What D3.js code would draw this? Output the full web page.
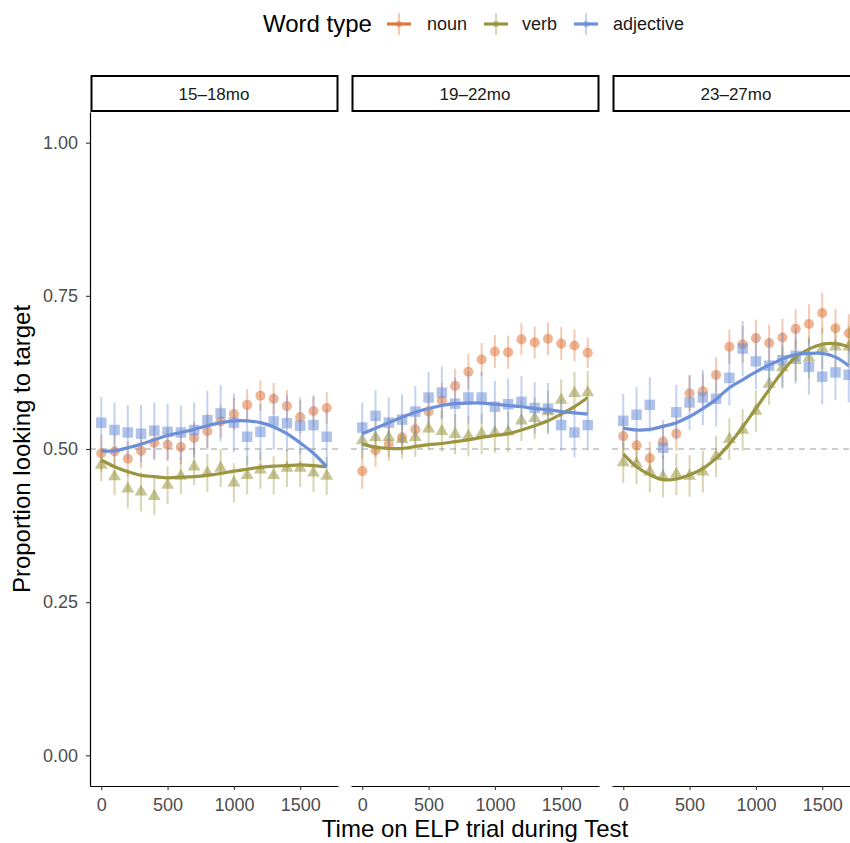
<!DOCTYPE html>
<html>
<head>
<meta charset="utf-8">
<script src="https://cdn.jsdelivr.net/npm/d3@7"></script>
<style>
body { margin: 0; background: #fff; }
svg { display: block; }
</style>
</head>
<body>
<div id="chart"></div>
<script>
// time bins (ms) and facets
var times = [0,100,200,300,400,500,600,700,800,900,1000,1100,1200,1300,1400,1500,1600,1700];
var panelNames = ["15–18mo", "19–22mo", "23–27mo"];
var wordTypes = ["noun", "verb", "adjective"];
var color_palette = ['#E0773C', '#9B9540', '#6D8FD8'];
var yTicks = [0, 0.25, 0.5, 0.75, 1];
var xTicks = [0, 500, 1000, 1500];

// means per bin
var noun15 = [0.493,0.496,0.484,0.497,0.510,0.507,0.503,0.518,0.529,0.545,0.557,0.572,0.587,0.582,0.570,0.552,0.562,0.567];
var verb15 = [0.474,0.455,0.435,0.430,0.423,0.441,0.456,0.471,0.461,0.469,0.445,0.457,0.466,0.457,0.469,0.469,0.461,0.456];
var adj15  = [0.543,0.531,0.527,0.525,0.530,0.528,0.527,0.531,0.547,0.558,0.543,0.520,0.528,0.545,0.542,0.538,0.539,0.520];

var noun19 = [0.464,0.498,0.508,0.519,0.532,0.561,0.579,0.603,0.626,0.646,0.659,0.658,0.679,0.674,0.680,0.672,0.669,0.657];
var verb19 = [0.514,0.519,0.519,0.516,0.519,0.533,0.529,0.524,0.521,0.525,0.527,0.528,0.546,0.550,0.561,0.580,0.591,0.592];
var adj19  = [0.535,0.554,0.543,0.548,0.561,0.584,0.592,0.574,0.584,0.584,0.569,0.573,0.577,0.567,0.566,0.539,0.527,0.539];

var noun23 = [0.521,0.506,0.485,0.512,0.525,0.591,0.594,0.621,0.667,0.671,0.681,0.673,0.682,0.696,0.704,0.722,0.697,0.689];
var verb23 = [0.478,0.476,0.463,0.455,0.459,0.456,0.463,0.488,0.516,0.531,0.562,0.606,0.633,0.645,0.649,0.664,0.667,0.667];
var adj23  = [0.546,0.556,0.572,0.502,0.560,0.576,0.584,0.582,0.616,0.664,0.643,0.636,0.645,0.652,0.634,0.618,0.625,0.621];

// error bar half-widths
var seNoun15 = [0.030,0.028,0.028,0.029,0.028,0.027,0.028,0.027,0.028,0.027,0.027,0.026,0.025,0.026,0.026,0.027,0.026,0.026];
var seVerb15 = [0.027,0.030,0.032,0.032,0.031,0.031,0.030,0.030,0.031,0.031,0.032,0.031,0.031,0.031,0.031,0.031,0.031,0.031];
var seAdj15  = [0.042,0.045,0.045,0.047,0.046,0.046,0.044,0.045,0.048,0.046,0.048,0.046,0.046,0.046,0.046,0.046,0.046,0.046];

var seNoun19 = [0.029,0.027,0.027,0.027,0.027,0.028,0.029,0.028,0.029,0.027,0.027,0.027,0.026,0.026,0.027,0.027,0.026,0.025];
var seVerb19 = [0.030,0.032,0.032,0.032,0.032,0.034,0.033,0.033,0.033,0.033,0.033,0.033,0.033,0.034,0.034,0.034,0.035,0.035];
var seAdj19  = [0.041,0.042,0.041,0.041,0.042,0.042,0.043,0.042,0.042,0.042,0.042,0.042,0.042,0.042,0.042,0.042,0.041,0.041];

var seNoun23 = [0.029,0.028,0.027,0.028,0.028,0.029,0.029,0.029,0.028,0.030,0.030,0.030,0.031,0.032,0.032,0.033,0.032,0.031];
var seVerb23 = [0.033,0.034,0.034,0.034,0.034,0.034,0.034,0.034,0.034,0.034,0.034,0.034,0.034,0.034,0.034,0.034,0.034,0.034];
var seAdj23  = [0.044,0.045,0.045,0.045,0.045,0.045,0.045,0.045,0.045,0.045,0.045,0.045,0.045,0.045,0.045,0.045,0.045,0.045];

// smoothed fits
var smoothVerb15 = [0.482,0.471,0.463,0.457,0.455,0.453,0.454,0.455,0.457,0.460,0.464,0.467,0.470,0.472,0.473,0.474,0.473,0.471];
var smoothAdj15  = [0.497,0.497,0.502,0.508,0.515,0.522,0.527,0.532,0.538,0.543,0.546,0.546,0.543,0.536,0.525,0.510,0.493,0.471];
var smoothVerb19 = [0.508,0.503,0.501,0.501,0.504,0.507,0.509,0.512,0.515,0.519,0.522,0.525,0.531,0.538,0.546,0.557,0.569,0.584];
var smoothAdj19  = [0.525,0.534,0.543,0.552,0.560,0.566,0.571,0.574,0.575,0.575,0.573,0.571,0.569,0.566,0.564,0.561,0.559,0.557];
var smoothVerb23 = [0.492,0.471,0.458,0.450,0.451,0.458,0.468,0.485,0.508,0.536,0.566,0.597,0.626,0.650,0.663,0.671,0.672,0.667];
var smoothAdj23  = [0.534,0.531,0.532,0.537,0.543,0.553,0.566,0.581,0.600,0.613,0.626,0.637,0.647,0.654,0.656,0.656,0.650,0.636];

var panels = [
  {name: panelNames[0], mean: [noun15, verb15, adj15], se: [seNoun15, seVerb15, seAdj15], smooth: [null, smoothVerb15, smoothAdj15]},
  {name: panelNames[1], mean: [noun19, verb19, adj19], se: [seNoun19, seVerb19, seAdj19], smooth: [null, smoothVerb19, smoothAdj19]},
  {name: panelNames[2], mean: [noun23, verb23, adj23], se: [seNoun23, seVerb23, seAdj23], smooth: [null, smoothVerb23, smoothAdj23]}
];

var font = "'Liberation Sans', Arial, sans-serif";
var svg = d3.select('#chart').append('svg')
  .attr('width', 850)
  .attr('height', 843)
  .attr('font-family', font);

var panelTop = 112, panelBottom = 786;
var panelW = 248, panelStep = 261, panelX0 = 90;
var stripTop = 75;

var x = d3.scaleLinear().domain([-85, 1785]).range([0, panelW]);
var y = d3.scaleLinear().domain([-0.05, 1.05]).range([panelBottom, panelTop]);

var shapes = [
  d3.symbol().type(d3.symbolCircle).size(80),
  d3.symbol().type(d3.symbolTriangle).size(72),
  d3.symbol().type(d3.symbolSquare).size(110)
];

var line = d3.line()
  .x(d => x(d.t))
  .y(d => y(d.v))
  .curve(d3.curveCatmullRom);

var xAxis = g => g
  .attr('transform', `translate(0,${panelBottom})`)
  .call(d3.axisBottom(x).tickValues(xTicks).tickSize(4).tickPadding(8).tickSizeOuter(0).tickFormat(d3.format('d')))
  .call(g => g.select('.domain').attr('stroke', '#000').attr('stroke-width', 1.2))
  .call(g => g.selectAll('.tick line').attr('stroke', '#333').attr('stroke-width', 1.1))
  .call(g => g.selectAll('.tick text')
    .attr('fill', '#4D4D4D')
    .attr('font-family', font)
    .attr('font-size', '18px'));

var yAxis = g => g
  .call(d3.axisLeft(y).tickValues(yTicks).tickSize(4).tickPadding(8).tickSizeOuter(0).tickFormat(d3.format('.2f')))
  .call(g => g.select('.domain').attr('stroke', '#000').attr('stroke-width', 1.2))
  .call(g => g.selectAll('.tick line').attr('stroke', '#333').attr('stroke-width', 1.1))
  .call(g => g.selectAll('.tick text')
    .attr('fill', '#4D4D4D')
    .attr('font-family', font)
    .attr('font-size', '18px'));

panels.forEach(function (p, pi) {
  var g = svg.append('g').attr('transform', `translate(${panelX0 + pi * panelStep},0)`);

  // reference line at chance
  g.append('line')
    .attr('x1', 0).attr('x2', panelW)
    .attr('y1', y(0.5)).attr('y2', y(0.5))
    .attr('stroke', '#BEBEBE')
    .attr('stroke-width', 1.5)
    .attr('stroke-dasharray', '6,5');

  wordTypes.forEach(function (w, wi) {
    var pts = times.map((t, i) => ({t: t, v: p.mean[wi][i], se: p.se[wi][i]}));
    var sg = g.append('g');
    sg.selectAll('line')
      .data(pts)
      .join('line')
      .attr('x1', d => x(d.t)).attr('x2', d => x(d.t))
      .attr('y1', d => y(d.v - d.se)).attr('y2', d => y(d.v + d.se))
      .attr('stroke', color_palette[wi])
      .attr('stroke-opacity', 0.4)
      .attr('stroke-width', 2);
    sg.selectAll('path')
      .data(pts)
      .join('path')
      .attr('d', shapes[wi])
      .attr('transform', d => `translate(${x(d.t)},${y(d.v)})`)
      .attr('fill', color_palette[wi])
      .attr('fill-opacity', 0.55);
  });

  wordTypes.forEach(function (w, wi) {
    if (!p.smooth[wi]) return;
    var pts = times.map((t, i) => ({t: t, v: p.smooth[wi][i]}));
    g.append('path')
      .attr('d', line(pts))
      .attr('fill', 'none')
      .attr('stroke', color_palette[wi])
      .attr('stroke-width', 3.2);
  });

  // strip
  g.append('rect')
    .attr('x', 1.5).attr('y', stripTop + 1)
    .attr('width', panelW - 2).attr('height', panelTop - stripTop - 2)
    .attr('fill', '#fff')
    .attr('stroke', '#000')
    .attr('stroke-width', 2);
  g.append('text')
    .attr('x', panelW / 2)
    .attr('y', (stripTop + panelTop) / 2)
    .attr('dy', '0.36em')
    .attr('text-anchor', 'middle')
    .attr('fill', '#1A1A1A')
    .attr('font-size', '17px')
    .text(p.name);

  g.append('g').call(xAxis);
  if (pi === 0) g.append('g').call(yAxis);
});

// axis titles
svg.append('text')
  .attr('x', panelX0 + (2 * panelStep + panelW) / 2)
  .attr('y', 837)
  .attr('text-anchor', 'middle')
  .attr('font-size', '24px')
  .attr('fill', '#000')
  .text('Time on ELP trial during Test');

svg.append('text')
  .attr('transform', `translate(30,${(panelTop + panelBottom) / 2}) rotate(-90)`)
  .attr('text-anchor', 'middle')
  .attr('font-size', '24px')
  .attr('fill', '#000')
  .text('Proportion looking to target');

// legend
var legend = svg.append('g');
legend.append('text')
  .attr('x', 263).attr('y', 32)
  .attr('font-size', '24px')
  .attr('fill', '#000')
  .text('Word type');

var keyX = [399, 496, 586];
var labelX = [427, 522, 613];
wordTypes.forEach(function (w, wi) {
  var k = legend.append('g').attr('transform', `translate(${keyX[wi]},24)`);
  k.append('line')
    .attr('x1', 0).attr('x2', 0).attr('y1', -11).attr('y2', 11)
    .attr('stroke', color_palette[wi]).attr('stroke-opacity', 0.4).attr('stroke-width', 2);
  k.append('path')
    .attr('d', d3.symbol().type(d3.symbolCircle).size(30)())
    .attr('fill', color_palette[wi]).attr('fill-opacity', 0.55);
  k.append('line')
    .attr('x1', -12).attr('x2', 12).attr('y1', 0).attr('y2', 0)
    .attr('stroke', color_palette[wi]).attr('stroke-width', 3.2);
  legend.append('text')
    .attr('x', labelX[wi]).attr('y', 30)
    .attr('font-size', '18px')
    .attr('fill', '#1A1A1A')
    .text(w);
});
</script>
</body>
</html>
